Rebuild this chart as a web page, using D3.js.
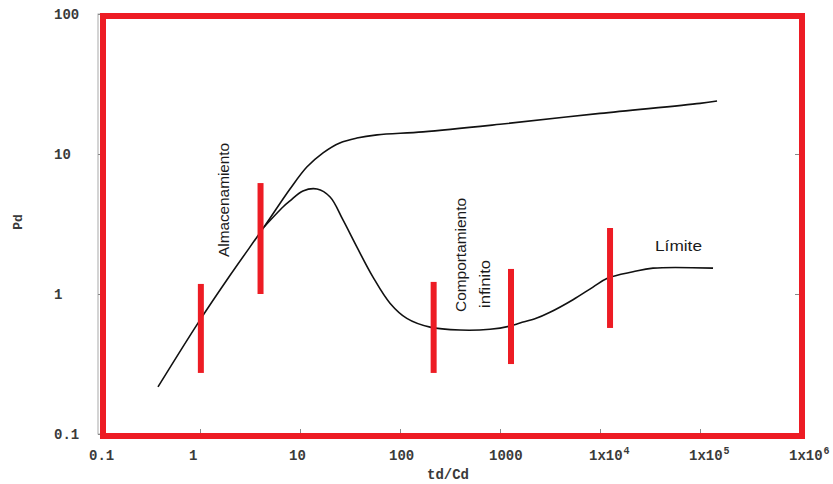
<!DOCTYPE html>
<html>
<head>
<meta charset="utf-8">
<script src="https://cdn.jsdelivr.net/npm/d3@7"></script>
<style>
  html, body { margin: 0; padding: 0; background: #fff; }
  svg { display: block; }
</style>
</head>
<body>
<svg id="chart" width="833" height="484"></svg>
<script>
// ---- data ----
const xTicks = [0.1, 1, 10, 100, 1000, 1e4, 1e5, 1e6];
const xTickLabels = ["0.1", "1", "10", "100", "1000", "1x10|4", "1x10|5", "1x10|6"];
const yTicks = [0.1, 1, 10, 100];
const yTickLabels = ["0.1", "1", "10", "100"];

// upper curve (storage + infinite acting pressure)
const upperTd = [0.38, 0.955, 2.0, 4.37, 7.94, 11.7, 17, 25, 37, 59, 170, 1000, 10000, 100000, 148000];
const upperPd = [0.217, 0.62, 1.36, 3.01, 5.62, 8.07, 10.2, 12.0, 13.0, 13.7, 14.4, 16.3, 19.5, 23.0, 23.9];

// lower curve (derivative)
const lowerTd = [4.37, 6.8, 7.94, 10.7, 14.8, 20, 26.9, 37, 53.7, 79.4, 117, 200, 398, 794, 1259, 1585, 2300, 3162, 5370, 8511, 12000, 21400, 33900, 135000];
const lowerPd = [3.01, 4.2, 4.62, 5.44, 5.62, 4.93, 3.38, 2.17, 1.32, 0.86, 0.67, 0.58, 0.553, 0.56, 0.59, 0.62, 0.67, 0.74, 0.91, 1.12, 1.30, 1.44, 1.53, 1.53];

// red flow-regime markers
const markerTd = [1.02, 4.03, 217, 1288, 12600];
const markerTop = [1.18, 6.2, 1.22, 1.51, 2.96];
const markerBottom = [0.273, 1.0, 0.273, 0.316, 0.572];

// annotations
const annotations = [
  { lines: ["Almacenamiento"], td: 1.95, pd: 1.84, rotate: true, len: [114] },
  { lines: ["Comportamiento", "infinito"], td: 457, pd: 0.744, rotate: true, len: [114, 48] },
  { lines: ["Límite"], td: 35500, pd: 2.02, rotate: false, len: [47] }
];

// ---- scales ----
const svg = d3.select("#chart");
const x = d3.scaleLog().domain([0.1, 1e6]).range([100, 800]);
const y = d3.scaleLog().domain([0.1, 100]).range([434, 14]);

const monoFont = "'Liberation Mono', 'Courier New', monospace";
const textFont = "'Liberation Sans', Arial, sans-serif";

// ---- inner gray axis box with inward ticks ----
const g = svg.append("g");
g.append("rect")
  .attr("x", x(0.1) - 2).attr("y", y(100))
  .attr("width", x(1e6) - x(0.1) + 2).attr("height", y(0.1) - y(100))
  .attr("fill", "none").attr("stroke", "#aaa").attr("stroke-width", 1);

const bottomAxis = d3.axisBottom(x).tickValues(xTicks).tickSize(-5).tickFormat("");
const topAxis = d3.axisTop(x).tickValues(xTicks).tickSize(-5).tickFormat("");
const leftAxis = d3.axisLeft(y).tickValues(yTicks).tickSize(-5).tickFormat("");
const rightAxis = d3.axisRight(y).tickValues(yTicks).tickSize(-5).tickFormat("");
[
  [bottomAxis, `translate(0,${y(0.1)})`],
  [topAxis, `translate(0,${y(100)})`],
  [leftAxis, `translate(${x(0.1) - 2},0)`],
  [rightAxis, `translate(${x(1e6)},0)`]
].forEach(([ax, tr]) => {
  const a = g.append("g").attr("transform", tr).call(ax);
  a.select(".domain").remove();
  a.selectAll("line").attr("stroke", "#888");
});

// ---- tick labels ----
const xl = svg.append("g")
  .attr("font-family", monoFont).attr("font-weight", "bold")
  .attr("font-size", 14).attr("fill", "#3a3a3a");
xTicks.forEach((v, i) => {
  const parts = xTickLabels[i].split("|");
  const t = xl.append("text").attr("x", x(v) - 11).attr("y", 460).attr("text-anchor", "start");
  t.append("tspan").text(parts[0]);
  if (parts[1]) {
    t.append("tspan").attr("dy", -6).attr("dx", 1).attr("font-size", 10).text(parts[1]);
  }
});

const yl = svg.append("g")
  .attr("font-family", monoFont).attr("font-weight", "bold")
  .attr("font-size", 14).attr("fill", "#3a3a3a");
yTicks.forEach((v, i) => {
  yl.append("text").attr("x", 54).attr("y", y(v)).attr("dy", "0.33em")
    .attr("text-anchor", "start").text(yTickLabels[i]);
});

// axis titles
svg.append("text").attr("x", 448).attr("y", 479)
  .attr("text-anchor", "middle").attr("font-family", monoFont).attr("font-weight", "bold")
  .attr("font-size", 14).attr("fill", "#3a3a3a").text("td/Cd");
svg.append("text").attr("transform", "translate(22,222) rotate(-90)")
  .attr("text-anchor", "middle").attr("font-family", monoFont).attr("font-weight", "bold")
  .attr("font-size", 13).attr("fill", "#3a3a3a").text("Pd");

// ---- curves ----
const line = d3.line().x(d => x(d[0])).y(d => y(d[1])).curve(d3.curveCatmullRom.alpha(0.5));
const upper = upperTd.map((t, i) => [t, upperPd[i]]);
const lower = lowerTd.map((t, i) => [t, lowerPd[i]]);
svg.append("path").attr("d", line(upper)).attr("fill", "none")
  .attr("stroke", "#111").attr("stroke-width", 1.6);
svg.append("path").attr("d", line(lower)).attr("fill", "none")
  .attr("stroke", "#111").attr("stroke-width", 1.6);

// ---- red markers ----
svg.append("g").selectAll("line").data(markerTd).join("line")
  .attr("x1", d => x(d)).attr("x2", d => x(d))
  .attr("y1", (d, i) => y(markerTop[i])).attr("y2", (d, i) => y(markerBottom[i]))
  .attr("stroke", "#ed1c24").attr("stroke-width", 6);

// ---- annotations ----
annotations.forEach(a => {
  a.lines.forEach((txt, k) => {
    const px = x(a.td), py = y(a.pd);
    const t = svg.append("text")
      .attr("font-family", textFont).attr("font-size", 15).attr("fill", "#1a1a1a")
      .attr("text-anchor", "start")
      .attr("textLength", a.len[k]).attr("lengthAdjust", "spacingAndGlyphs")
      .text(txt);
    if (a.rotate) {
      t.attr("transform", `translate(${px + k * 24},${py - k * 4}) rotate(-90)`);
    } else {
      t.attr("x", px).attr("y", py);
    }
  });
});

// ---- red frame ----
svg.append("rect")
  .attr("x", 103).attr("y", 16).attr("width", 699).attr("height", 420)
  .attr("fill", "none").attr("stroke", "#ed1c24").attr("stroke-width", 6);
</script>
</body>
</html>
